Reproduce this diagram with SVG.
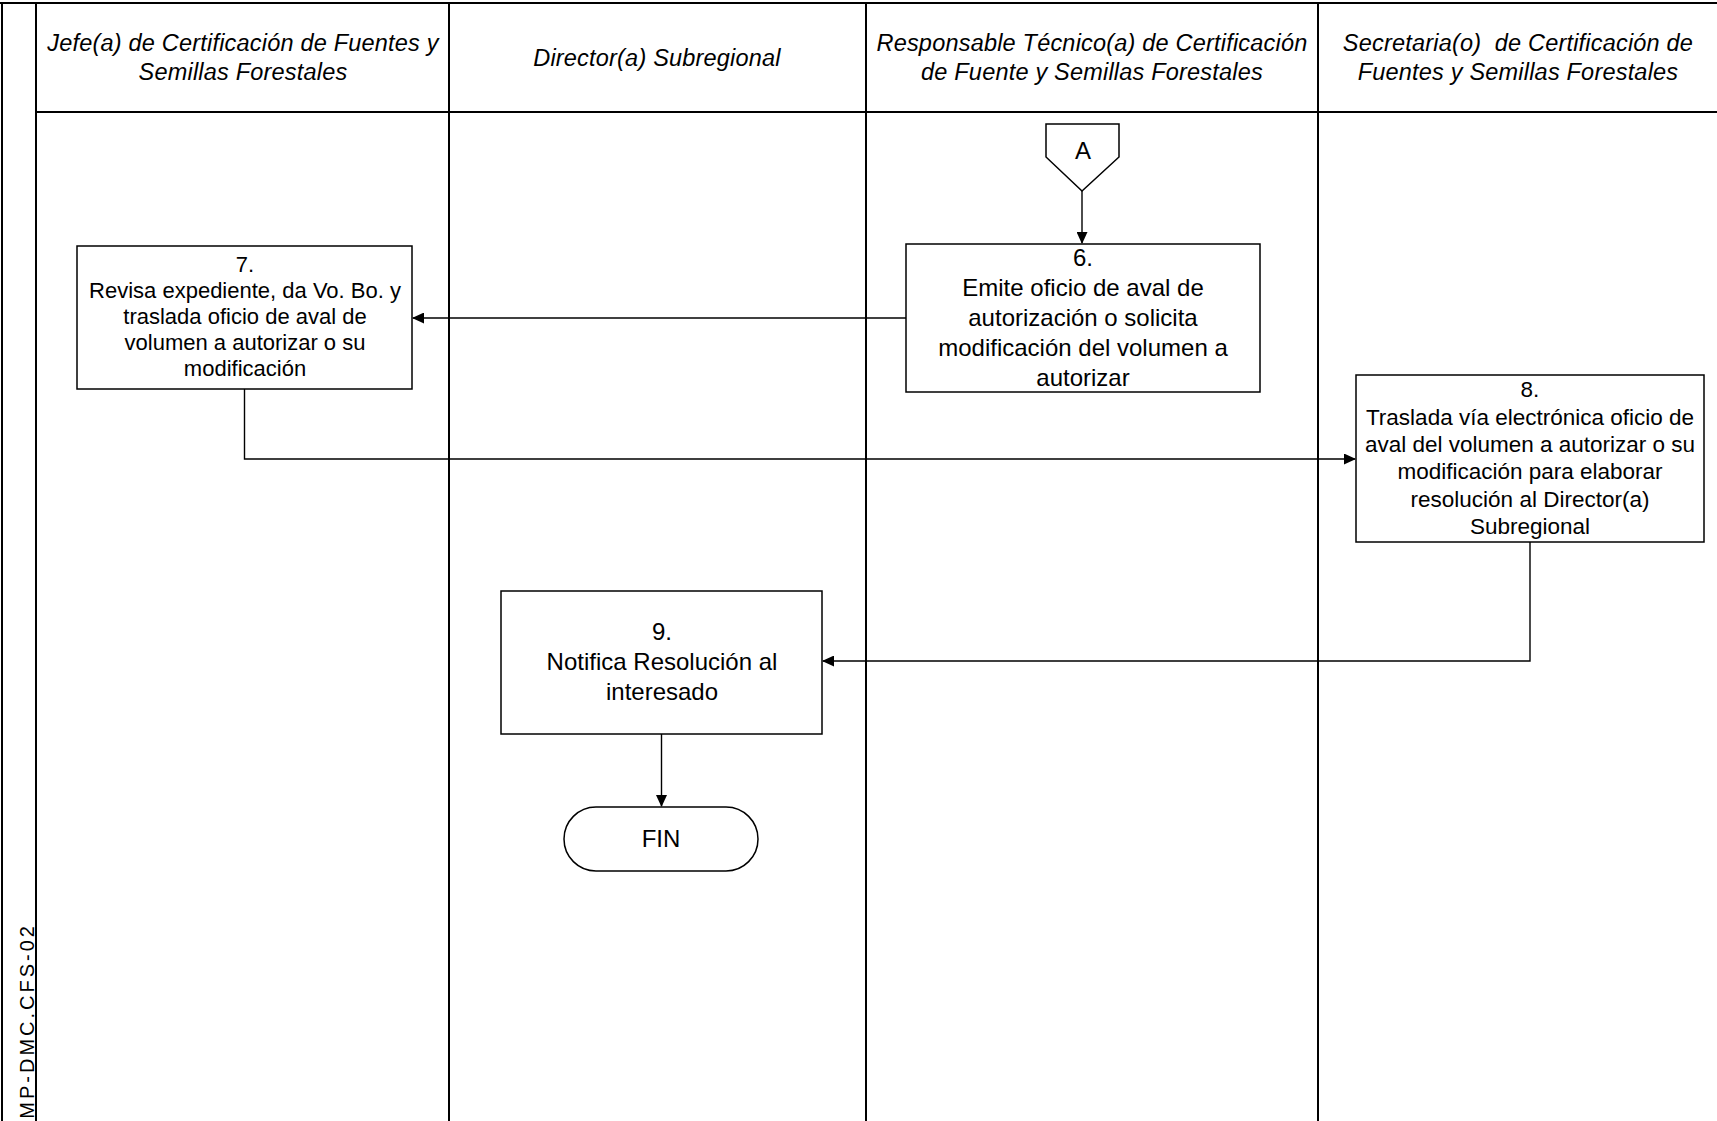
<svg xmlns="http://www.w3.org/2000/svg" width="1717" height="1121" viewBox="0 0 1717 1121">
<style>
.lane{stroke:#000;stroke-width:2;fill:none}
.box{fill:#fff;stroke:#000;stroke-width:1.5}
.con{fill:none;stroke:#000;stroke-width:1.4}
.hd{font-family:"Liberation Sans",Arial,sans-serif;font-style:italic;font-size:23.5px;letter-spacing:0.2px;text-anchor:middle;fill:#000}
.t{font-family:"Liberation Sans",Arial,sans-serif;font-size:24px;text-anchor:middle;fill:#000}
.s7{font-size:22px}
.s8{font-size:22.5px}
</style>
<defs>
<marker id="ah" markerWidth="12" markerHeight="11" refX="11" refY="5.5" orient="auto" markerUnits="userSpaceOnUse">
<path d="M0,0 L12,5.5 L0,11 Z" fill="#000"/>
</marker>
</defs>
<rect width="1717" height="1121" fill="#fff"/>
<g id="frame">
<line class="lane" x1="0" y1="3" x2="1717" y2="3"/>
<line class="lane" x1="36" y1="112" x2="1717" y2="112"/>
<line class="lane" x1="2" y1="3" x2="2" y2="1121"/>
<line class="lane" x1="36" y1="3" x2="36" y2="1121"/>
<line class="lane" x1="449" y1="3" x2="449" y2="1121"/>
<line class="lane" x1="866" y1="3" x2="866" y2="1121"/>
<line class="lane" x1="1318" y1="3" x2="1318" y2="1121"/>
<text transform="rotate(-90)" x="-923" y="34" style="font-family:'Liberation Sans',Arial,sans-serif;font-size:20px;letter-spacing:3px;text-anchor:end">MP-DMC.CFS-02</text>
</g>
<g id="headers">
<text class="hd" x="243" y="51">Jefe(a) de Certificación de Fuentes y</text>
<text class="hd" x="243" y="80">Semillas Forestales</text>
<text class="hd" x="657" y="66">Director(a) Subregional</text>
<text class="hd" x="1092" y="51">Responsable Técnico(a) de Certificación</text>
<text class="hd" x="1092" y="80">de Fuente y Semillas Forestales</text>
<text class="hd" x="1518" y="51" style="white-space:pre">Secretaria(o)  de Certificación de</text>
<text class="hd" x="1518" y="80">Fuentes y Semillas Forestales</text>
</g>
<g id="connectors">
<path class="con" d="M1082,191 L1082,243" marker-end="url(#ah)"/>
<path class="con" d="M906,318 L413,318" marker-end="url(#ah)"/>
<path class="con" d="M244.5,389 L244.5,459 L1355,459" marker-end="url(#ah)"/>
<path class="con" d="M1530,542 L1530,661 L823,661" marker-end="url(#ah)"/>
<path class="con" d="M661.5,734 L661.5,806" marker-end="url(#ah)"/>
</g>
<g id="nodeA">
<polygon class="box" points="1046,124 1119,124 1119,157 1082,191 1046,157"/>
<text class="t" x="1083" y="159">A</text>
</g>
<g id="node6">
<rect class="box" x="906" y="244" width="354" height="148"/>
<text class="t" x="1083" y="266">6.</text>
<text class="t" x="1083" y="296">Emite oficio de aval de</text>
<text class="t" x="1083" y="326">autorización o solicita</text>
<text class="t" x="1083" y="356">modificación del volumen a</text>
<text class="t" x="1083" y="386">autorizar</text>
</g>
<g id="node7">
<rect class="box" x="77" y="246" width="335" height="143"/>
<text class="t s7" x="245" y="272">7.</text>
<text class="t s7" x="245" y="298">Revisa expediente, da Vo. Bo. y</text>
<text class="t s7" x="245" y="324">traslada oficio de aval de</text>
<text class="t s7" x="245" y="350">volumen a autorizar o su</text>
<text class="t s7" x="245" y="376">modificación</text>
</g>
<g id="node8">
<rect class="box" x="1356" y="375" width="348" height="167"/>
<text class="t s8" x="1530" y="397">8.</text>
<text class="t s8" x="1530" y="425">Traslada vía electrónica oficio de</text>
<text class="t s8" x="1530" y="452">aval del volumen a autorizar o su</text>
<text class="t s8" x="1530" y="479">modificación para elaborar</text>
<text class="t s8" x="1530" y="507">resolución al Director(a)</text>
<text class="t s8" x="1530" y="534">Subregional</text>
</g>
<g id="node9">
<rect class="box" x="501" y="591" width="321" height="143"/>
<text class="t" x="662" y="640">9.</text>
<text class="t" x="662" y="670">Notifica Resolución al</text>
<text class="t" x="662" y="700">interesado</text>
</g>
<g id="fin">
<rect class="box" x="564" y="807" width="194" height="64" rx="32" ry="32"/>
<text class="t" x="661" y="847">FIN</text>
</g>
</svg>
